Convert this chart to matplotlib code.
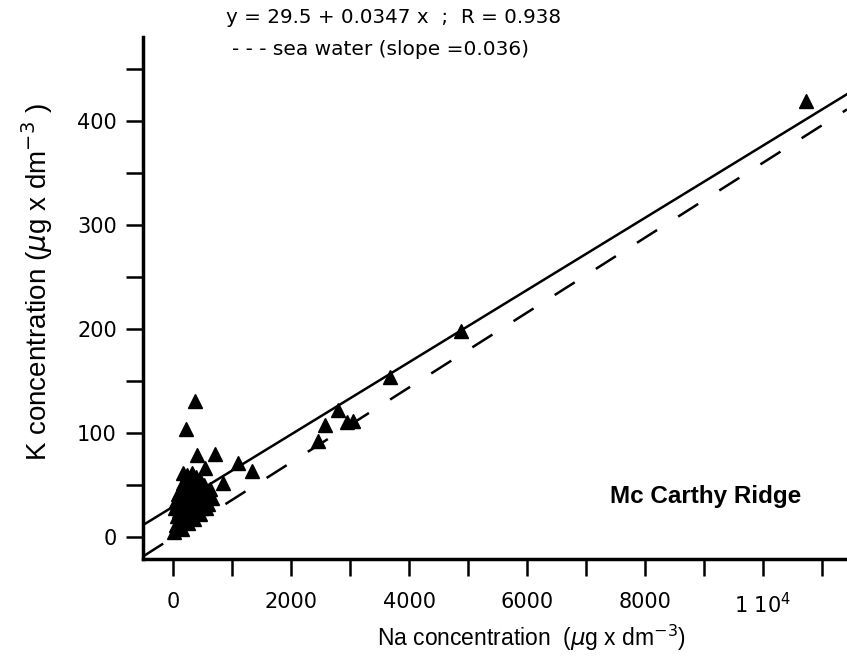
import numpy as np
import matplotlib.pyplot as plt
from matplotlib.ticker import MultipleLocator, FixedLocator, FuncFormatter

# Na / K concentrations (ug x dm-3)
# dense cluster of low concentration samples
na_low = [20, 40, 60, 30, 50, 80, 90, 100, 110, 120, 130, 140, 150, 160, 170,
          180, 190, 200, 210, 220, 230, 240, 250, 260, 270, 280, 290, 300,
          310, 320, 330, 340, 350, 360, 380, 400, 410, 430, 450, 470, 490,
          510, 530, 560, 590, 620, 650, 150, 250, 360, 450, 550]
k_low = [5, 12, 20, 28, 35, 42, 10, 25, 32, 15, 45, 22, 38, 52, 28,
         18, 44, 33, 56, 25, 40, 60, 30, 48, 20, 38, 55, 28,
         45, 62, 35, 50, 24, 42, 58, 32, 48, 38, 55, 28, 44,
         35, 50, 40, 32, 46, 38, 8, 14, 18, 22, 28]
# remaining samples
na_high = [170, 220, 370, 405, 540, 710, 850, 1100, 1340,
           2460, 2580, 2800, 2950, 3050, 3680, 4880, 10730]
k_high = [62, 104, 131, 79, 67, 80, 52, 71, 64,
          93, 108, 122, 111, 112, 154, 198, 420]

# regression fit and sea water reference
a, b = 29.5, 0.0347
sea_slope = 0.036

xlim = (-510, 11430)
ylim = (-21, 481)

fig = plt.figure(figsize=(8.47, 6.57), dpi=100)
ax = fig.add_axes([0.169, 0.149, 0.831, 0.7945])

xs = np.array(xlim)
ax.plot(xs, a + b * xs, color='black', lw=1.8)
ax.plot(xs, sea_slope * xs, color='black', lw=1.8, dashes=(9.5, 10))
ax.plot(na_low + na_high, k_low + k_high, linestyle='none', marker='^',
        ms=10, color='black')

ax.set_xlim(xlim)
ax.set_ylim(ylim)

for s in ['top', 'right']:
    ax.spines[s].set_visible(False)
for s in ['left', 'bottom']:
    ax.spines[s].set_linewidth(2.5)

ax.xaxis.set_major_locator(FixedLocator([0, 2000, 4000, 6000, 8000, 10000]))
ax.xaxis.set_minor_locator(MultipleLocator(1000))
ax.yaxis.set_major_locator(MultipleLocator(100))
ax.yaxis.set_minor_locator(MultipleLocator(50))


def xfmt(v, pos):
    if v == 10000:
        return r'1 10$^{4}$'
    return '%d' % v


ax.xaxis.set_major_formatter(FuncFormatter(xfmt))
ax.tick_params(which='both', direction='out', width=1.8, length=12,
               labelsize=15)
ax.tick_params(axis='x', which='major', pad=12)
ax.tick_params(axis='y', which='major', pad=7)

fig.text(0.627, 0.029, r'Na concentration  ($\mu$g x dm$^{-3}$)',
         ha='center', va='center', fontsize=16.5, family='Liberation Sans')
ax.set_ylabel(r'K concentration ($\mu$g x dm$^{-3}$ )', fontsize=20,
              family='Liberation Sans')
ax.yaxis.set_label_coords(-0.125, 0.53)

fig.text(0.465, 0.973, 'y = 29.5 + 0.0347 x  ;  R = 0.938', ha='center',
         va='center', fontsize=14.3)
fig.text(0.274, 0.924, '- - - sea water (slope =0.036)', ha='left',
         va='center', fontsize=14.5)
ax.text(9030, 39, 'Mc Carthy Ridge', ha='center', va='center', fontsize=17.5,
        fontweight='bold', family='Liberation Sans')

plt.savefig('out.png', dpi=100)
plt.close()
